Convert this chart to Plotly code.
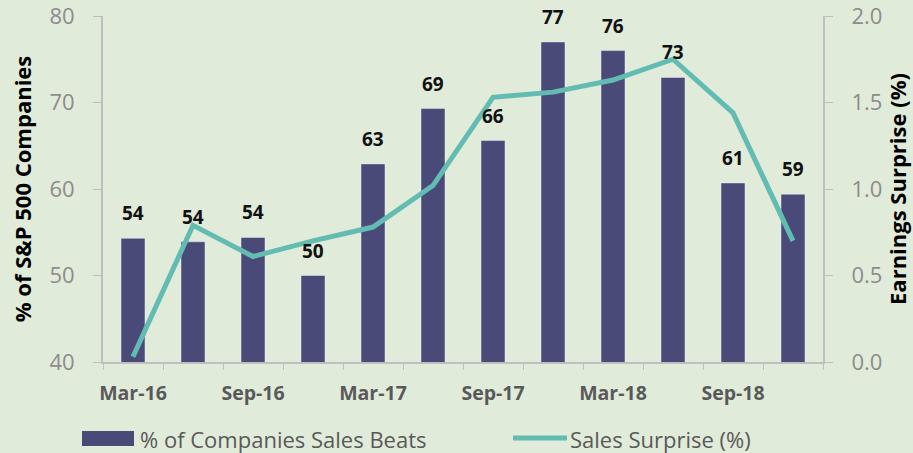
import plotly.graph_objects as go

categories = ["Mar-16", "Jun-16", "Sep-16", "Dec-16", "Mar-17", "Jun-17",
              "Sep-17", "Dec-17", "Mar-18", "Jun-18", "Sep-18", "Dec-18"]
sales_beats = [54.3, 53.9, 54.4, 50.0, 62.9, 69.3, 65.6, 77.0, 76.0, 72.9, 60.7, 59.4]
beat_labels = ["54", "54", "54", "50", "63", "69", "66", "77", "76", "73", "61", "59"]
sales_surprise = [0.03, 0.79, 0.61, 0.70, 0.78, 1.02, 1.53, 1.56, 1.63, 1.75, 1.44, 0.70]
tick_text = [c if i % 2 == 0 else "" for i, c in enumerate(categories)]

BG = "#E1EBDA"
BAR = "#4A4A78"
LINE = "#62BCB2"
AXIS = "#BFBFBF"
FONT = "Open Sans"

fig = go.Figure()
fig.add_trace(go.Bar(x=categories, y=sales_beats, marker_color=BAR,
                     name="% of Companies Sales Beats", showlegend=False))
fig.add_trace(go.Scatter(x=categories, y=sales_surprise, yaxis="y2", mode="lines",
                         line=dict(color=LINE, width=5), name="Sales Surprise (%)",
                         showlegend=False))

for c, v, t in zip(categories, sales_beats, beat_labels):
    fig.add_annotation(x=c, y=v, xref="x", yref="y", text=t, showarrow=False,
                       yanchor="middle", yshift=25,
                       font=dict(family=FONT, size=19, color="#111111", weight="bold"))

# manual legend
W, H = 720.0, 346.0
def px(x):
    return (x - 103) / W
def py(y):
    return (362 - y) / H

fig.add_shape(type="rect", xref="paper", yref="paper",
              x0=px(82), x1=px(134), y0=py(446), y1=py(431),
              fillcolor=BAR, line=dict(width=0))
fig.add_annotation(xref="paper", yref="paper", x=px(138), y=py(439), xanchor="left",
                   yanchor="middle", text="% of Companies Sales Beats", showarrow=False,
                   font=dict(family=FONT, size=22, color="#595959"))
fig.add_shape(type="line", xref="paper", yref="paper",
              x0=px(513), x1=px(567), y0=py(438), y1=py(438),
              line=dict(color=LINE, width=5))
fig.add_annotation(xref="paper", yref="paper", x=px(568), y=py(439), xanchor="left",
                   yanchor="middle", text="Sales Surprise (%)", showarrow=False,
                   font=dict(family=FONT, size=22, color="#595959"))

fig.update_layout(
    width=913, height=453,
    margin=dict(l=103, r=90, t=16, b=91),
    paper_bgcolor=BG, plot_bgcolor=BG,
    bargap=0.6,
    font=dict(family=FONT),
    xaxis=dict(type="category", tickvals=categories, ticktext=tick_text, tickangle=0,
               tickson="boundaries", ticks="outside", ticklen=6, tickcolor=AXIS,
               showline=True, linecolor=AXIS, linewidth=2, showgrid=False,
               automargin=False, ticklabelstandoff=13,
               tickfont=dict(family=FONT, size=19.5, color="#595959", weight="bold")),
    yaxis=dict(range=[40, 80], dtick=10, ticks="outside", ticklen=8, tickcolor=AXIS,
               showline=True, linecolor=AXIS, linewidth=2, showgrid=False, zeroline=False,
               automargin=False, ticklabelstandoff=14, ticklabeloverflow="allow",
               tickfont=dict(family=FONT, size=22, color="#8C8C8C"),
               title=dict(text="% of S&P 500 Companies", standoff=12,
                          font=dict(family=FONT, size=22, color="#000000", weight="bold"))),
    yaxis2=dict(range=[0, 2], dtick=0.5, tickformat=".1f", overlaying="y", side="right",
                ticks="outside", ticklen=8, tickcolor=AXIS,
                showline=True, linecolor=AXIS, linewidth=2, showgrid=False, zeroline=False,
                automargin=False, ticklabelstandoff=14, ticklabeloverflow="allow",
                tickfont=dict(family=FONT, size=22, color="#8C8C8C"),
                title=dict(text="Earnings Surprise (%)", standoff=8,
                           font=dict(family=FONT, size=22, color="#000000", weight="bold"))),
)

fig.write_html("out.html", config={"displayModeBar": False},
               post_script="document.body.style.margin='0';")
